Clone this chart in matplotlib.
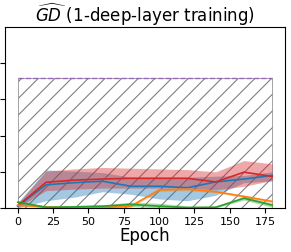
import numpy as np
import matplotlib
matplotlib.use("Agg")
import matplotlib.pyplot as plt

# epochs where the curves were sampled
epochs = [0, 20, 40, 60, 80, 100, 120, 140, 160, 180]

blue_mean = [0.05, 0.64, 0.70, 0.74, 0.60, 0.60, 0.56, 0.72, 0.80, 0.90]
blue_low = [0.00, 0.20, 0.30, 0.45, 0.38, 0.25, 0.20, 0.35, 0.70, 0.75]
blue_high = [0.15, 1.05, 1.02, 0.98, 0.85, 0.85, 0.85, 0.88, 0.90, 1.00]

red_mean = [0.06, 0.71, 0.77, 0.80, 0.82, 0.82, 0.82, 0.72, 0.99, 0.87]
red_low = [0.02, 0.48, 0.52, 0.55, 0.55, 0.55, 0.55, 0.50, 0.60, 0.76]
red_high = [0.12, 1.02, 1.08, 1.12, 1.10, 1.08, 1.06, 1.00, 1.31, 1.22]

orange_mean = [0.08, 0.03, 0.00, 0.02, 0.05, 0.50, 0.52, 0.45, 0.32, 0.18]
orange_low = [0.05, 0.00, 0.00, 0.00, 0.02, 0.46, 0.48, 0.42, 0.29, 0.15]
orange_high = [0.11, 0.06, 0.03, 0.05, 0.08, 0.54, 0.56, 0.48, 0.35, 0.21]

green_mean = [0.16, 0.02, 0.03, 0.05, 0.10, 0.05, 0.01, 0.02, 0.27, 0.08]
green_low = [0.11, 0.00, 0.00, 0.01, 0.04, 0.00, 0.00, 0.00, 0.22, 0.02]
green_high = [0.21, 0.05, 0.07, 0.09, 0.16, 0.13, 0.06, 0.05, 0.32, 0.13]

bound = 3.58

fig = plt.figure(figsize=(2.91, 2.53), dpi=100)
ax = fig.add_axes([5 / 291, 1 - 209 / 253, 280 / 291, 181 / 253])

plt.rcParams["hatch.linewidth"] = 0.8
ax.fill_between(epochs, 0, bound, facecolor="none", edgecolor="gray",
                hatch="//", linewidth=0.5)
ax.plot(epochs, [bound] * len(epochs), color="tab:purple", ls="--", lw=1)

series = [
    (blue_mean, blue_low, blue_high, "tab:blue"),
    (red_mean, red_low, red_high, "tab:red"),
    (orange_mean, orange_low, orange_high, "tab:orange"),
    (green_mean, green_low, green_high, "tab:green"),
]
for mean, low, high, c in series:
    ax.fill_between(epochs, low, high, color=c, alpha=0.4, linewidth=0)
    ax.plot(epochs, mean, color=c, lw=1.2)

ax.set_xlim(-9, 189)
ax.set_ylim(0, 5)
ax.set_yticks([0, 1, 2, 3, 4])
ax.tick_params(axis="y", labelleft=False)
ax.set_xticks([0, 25, 50, 75, 100, 125, 150, 175])
ax.tick_params(axis="x", labelsize=8, pad=2)
ax.set_xlabel("Epoch", fontsize=12, labelpad=0)
ax.set_title(r"$\widehat{GD}$ (1-deep-layer training)", fontsize=12, pad=4)

fig.savefig("out.png", dpi=100)
